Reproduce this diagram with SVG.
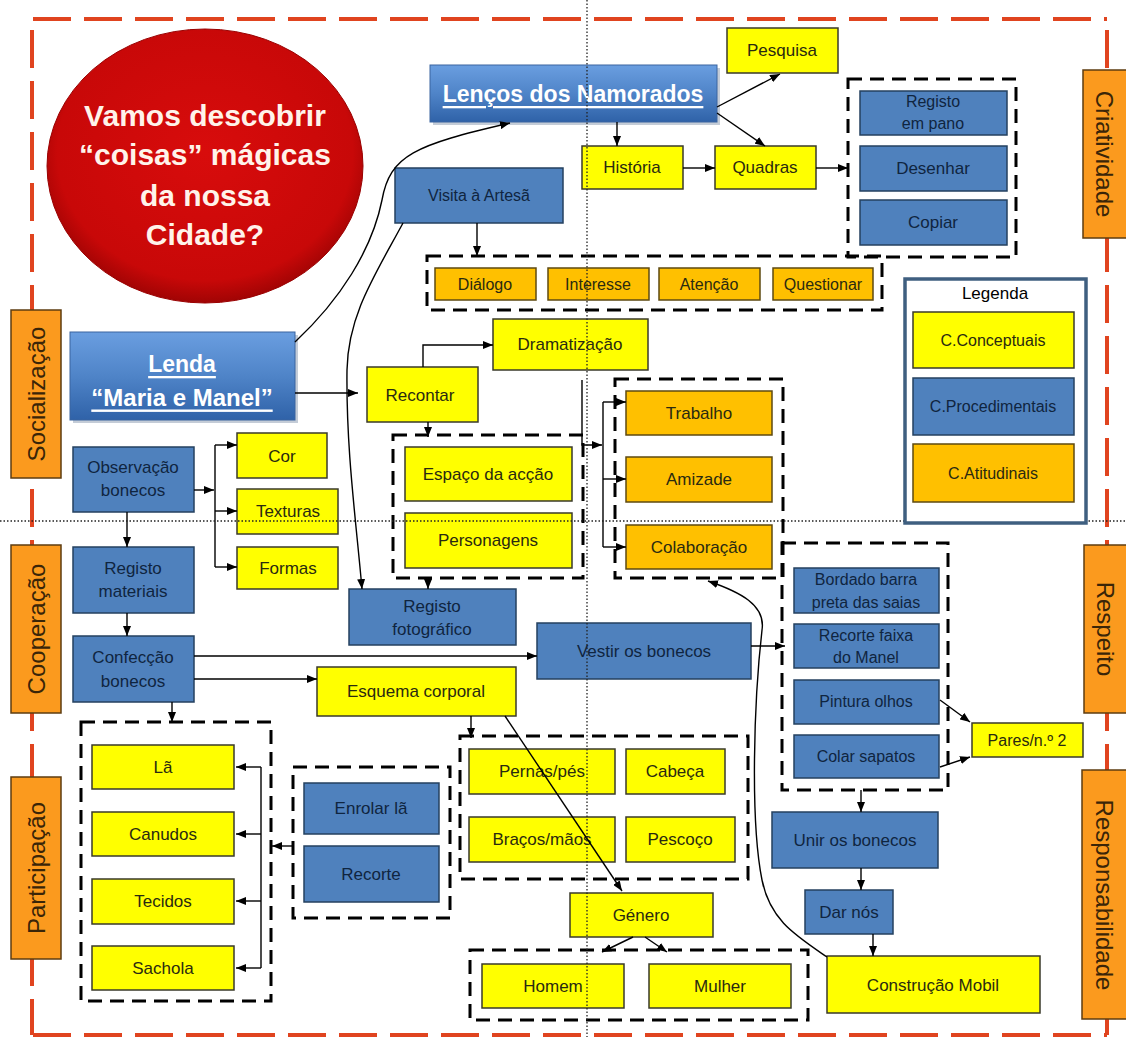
<svg xmlns="http://www.w3.org/2000/svg" width="1126" height="1037" viewBox="0 0 1126 1037">
<style>
.c rect{fill:#ffff00;stroke:#3a3a2a;stroke-width:1.5}
.p rect{fill:#4f81bd;stroke:#24405f;stroke-width:1.5}
.a rect{fill:#ffc000;stroke:#5e4a10;stroke-width:1.5}
.lab rect{fill:#fb9a1e;stroke:#5e3c10;stroke-width:1.5}
text{font-family:"Liberation Sans",Arial,sans-serif;font-size:17px;text-anchor:middle;dominant-baseline:central}
.c text,.a text{fill:#2a2a10}
.p text{fill:#0f2540}
.lab text{font-size:24px;fill:#3a2508}
.grp{fill:none;stroke:#000;stroke-width:3;stroke-dasharray:14 8}
.con path{fill:none;stroke:#000;stroke-width:1.4}
.hd text{font-weight:bold;fill:#fff;text-decoration:underline}
.red{stroke:#e0441f;stroke-width:4;stroke-dasharray:38 13;fill:none}
.dot{stroke:#222;stroke-width:1.3;stroke-dasharray:1.5 2;fill:none}
.ct{font-size:30px;font-weight:bold;fill:#fff3ea}
</style>
<defs>
<marker id="ah" viewBox="0 0 10 8" refX="10" refY="4" markerWidth="10" markerHeight="8" markerUnits="userSpaceOnUse" orient="auto"><path d="M0,0 L10,4 L0,8 z" fill="#000"/></marker>
<linearGradient id="bg" x1="0" y1="0" x2="0" y2="1"><stop offset="0" stop-color="#6a9ee0"/><stop offset="0.5" stop-color="#4f84c8"/><stop offset="1" stop-color="#2f62a8"/></linearGradient>
<radialGradient id="rg" cx="0.5" cy="0.45" r="0.55"><stop offset="0" stop-color="#d80c0c"/><stop offset="0.85" stop-color="#c80808"/><stop offset="1" stop-color="#a00404"/></radialGradient>
</defs>
<rect width="1126" height="1037" fill="#fff"/>

<g id="border">
<path class="red" d="M33,19 H1107"/>
<path class="red" d="M32,30 V1035"/>
<path class="red" d="M1107,30 V1035"/>
<path class="red" d="M33,1035 H1107"/>
</g>

<g id="title">
<ellipse cx="205" cy="166" rx="158" ry="137" fill="url(#rg)" stroke="#900" stroke-width="1"/>
<text class="ct" x="205" y="115">Vamos descobrir</text>
<text class="ct" x="205" y="154">“coisas” mágicas</text>
<text class="ct" x="205" y="195">da nossa</text>
<text class="ct" x="205" y="234">Cidade?</text>
</g>

<g id="groups">
<rect class="grp" x="848" y="79" width="168" height="178"/>
<rect class="grp" x="427" y="256" width="455" height="54"/>
<rect class="grp" x="393" y="435" width="190" height="143"/>
<rect class="grp" x="615" y="379" width="168" height="199"/>
<rect class="grp" x="81" y="722" width="190" height="279"/>
<rect class="grp" x="293" y="767" width="157" height="151"/>
<rect class="grp" x="460" y="736" width="288" height="143"/>
<rect class="grp" x="470" y="950" width="338" height="70"/>
<rect class="grp" x="782" y="543" width="166" height="247"/>
</g>

<g id="lencos" class="hd">
<rect x="433" y="68" width="287" height="57" fill="#8a9ab0" opacity="0.5"/>
<rect x="430" y="65" width="287" height="57" fill="url(#bg)" stroke="#3a64a0" stroke-width="1"/>
<text x="573" y="94" style="font-size:23px">Lenços dos Namorados</text>
</g>
<g id="lenda" class="hd">
<rect x="73" y="335" width="225" height="88" fill="#8a9ab0" opacity="0.5"/>
<rect x="70" y="332" width="225" height="88" fill="url(#bg)" stroke="#3a64a0" stroke-width="1"/>
<text x="182" y="364" style="font-size:23px">Lenda</text>
<text x="182" y="397" style="font-size:24px">“Maria e Manel”</text>
</g>

<g id="pesquisa" class="c"><rect x="727" y="28" width="111" height="45"/><text x="782" y="50">Pesquisa</text></g>
<g id="historia" class="c"><rect x="582" y="146" width="101" height="43"/><text x="632" y="167">História</text></g>
<g id="quadras" class="c"><rect x="715" y="146" width="101" height="43"/><text x="765" y="167">Quadras</text></g>
<g id="registo-pano" class="p"><rect x="860" y="91" width="147" height="44"/><text x="933" y="101" style="font-size:16px">Registo</text><text x="933" y="123" style="font-size:16px">em pano</text></g>
<g id="desenhar" class="p"><rect x="860" y="146" width="147" height="45"/><text x="933" y="168">Desenhar</text></g>
<g id="copiar" class="p"><rect x="860" y="200" width="147" height="45"/><text x="933" y="222">Copiar</text></g>
<g id="visita" class="p"><rect x="395" y="168" width="168" height="55"/><text x="479" y="195" style="font-size:16px">Visita à Artesã</text></g>
<g id="dialogo" class="a"><rect x="435" y="268" width="101" height="32"/><text x="485" y="284" style="font-size:16px">Diálogo</text></g>
<g id="interesse" class="a"><rect x="548" y="268" width="101" height="32"/><text x="598" y="284" style="font-size:16px">Interesse</text></g>
<g id="atencao" class="a"><rect x="659" y="268" width="101" height="32"/><text x="709" y="284" style="font-size:16px">Atenção</text></g>
<g id="questionar" class="a"><rect x="773" y="268" width="100" height="32"/><text x="823" y="284" style="font-size:16px">Questionar</text></g>

<g id="dramatizacao" class="c"><rect x="493" y="319" width="155" height="51"/><text x="570" y="344">Dramatização</text></g>
<g id="recontar" class="c"><rect x="367" y="367" width="111" height="55"/><text x="420" y="395">Recontar</text></g>
<g id="espaco" class="c"><rect x="405" y="447" width="167" height="54"/><text x="488" y="474">Espaço da acção</text></g>
<g id="personagens" class="c"><rect x="405" y="513" width="167" height="55"/><text x="488" y="540">Personagens</text></g>
<g id="trabalho" class="a"><rect x="626" y="391" width="146" height="44"/><text x="699" y="413">Trabalho</text></g>
<g id="amizade" class="a"><rect x="626" y="457" width="146" height="45"/><text x="699" y="479">Amizade</text></g>
<g id="colaboracao" class="a"><rect x="626" y="525" width="146" height="44"/><text x="699" y="547">Colaboração</text></g>

<g id="observacao" class="p"><rect x="73" y="447" width="121" height="65"/><text x="133" y="467">Observação</text><text x="133" y="490">bonecos</text></g>
<g id="cor" class="c"><rect x="237" y="433" width="90" height="45"/><text x="282" y="456">Cor</text></g>
<g id="texturas" class="c"><rect x="237" y="489" width="101" height="45"/><text x="288" y="511">Texturas</text></g>
<g id="formas" class="c"><rect x="237" y="547" width="101" height="42"/><text x="288" y="568">Formas</text></g>
<g id="registo-materiais" class="p"><rect x="73" y="547" width="121" height="66"/><text x="133" y="568">Registo</text><text x="133" y="591">materiais</text></g>
<g id="confeccao" class="p"><rect x="73" y="636" width="121" height="66"/><text x="133" y="657">Confecção</text><text x="133" y="681">bonecos</text></g>
<g id="registo-foto" class="p"><rect x="349" y="589" width="167" height="56"/><text x="432" y="606">Registo</text><text x="432" y="629">fotográfico</text></g>
<g id="vestir" class="p"><rect x="537" y="623" width="214" height="56"/><text x="644" y="651">Vestir os bonecos</text></g>
<g id="esquema" class="c"><rect x="317" y="667" width="199" height="49"/><text x="416" y="691">Esquema corporal</text></g>

<g id="la" class="c"><rect x="92" y="745" width="142" height="44"/><text x="163" y="767">Lã</text></g>
<g id="canudos" class="c"><rect x="92" y="812" width="142" height="44"/><text x="163" y="834">Canudos</text></g>
<g id="tecidos" class="c"><rect x="92" y="879" width="142" height="45"/><text x="163" y="901">Tecidos</text></g>
<g id="sachola" class="c"><rect x="92" y="946" width="142" height="44"/><text x="163" y="968">Sachola</text></g>
<g id="enrolar" class="p"><rect x="304" y="783" width="135" height="51"/><text x="371" y="808">Enrolar lã</text></g>
<g id="recorte" class="p"><rect x="304" y="846" width="135" height="56"/><text x="371" y="874">Recorte</text></g>

<g id="pernas" class="c"><rect x="469" y="749" width="146" height="45"/><text x="542" y="771">Pernas/pés</text></g>
<g id="cabeca" class="c"><rect x="626" y="749" width="99" height="45"/><text x="675" y="771">Cabeça</text></g>
<g id="bracos" class="c"><rect x="469" y="817" width="146" height="45"/><text x="542" y="839">Braços/mãos</text></g>
<g id="pescoco" class="c"><rect x="626" y="817" width="109" height="45"/><text x="680" y="839">Pescoço</text></g>
<g id="genero" class="c"><rect x="570" y="893" width="143" height="44"/><text x="641" y="915">Género</text></g>
<g id="homem" class="c"><rect x="482" y="964" width="142" height="44"/><text x="553" y="986">Homem</text></g>
<g id="mulher" class="c"><rect x="649" y="964" width="142" height="44"/><text x="720" y="986">Mulher</text></g>

<g id="bordado" class="p"><rect x="794" y="568" width="145" height="45"/><text x="866" y="579" style="font-size:16px">Bordado barra</text><text x="866" y="602" style="font-size:16px">preta das saias</text></g>
<g id="recorte-faixa" class="p"><rect x="794" y="624" width="145" height="44"/><text x="866" y="635" style="font-size:16px">Recorte faixa</text><text x="866" y="657" style="font-size:16px">do Manel</text></g>
<g id="pintura" class="p"><rect x="794" y="680" width="145" height="44"/><text x="866" y="701" style="font-size:16px">Pintura olhos</text></g>
<g id="colar" class="p"><rect x="794" y="735" width="145" height="43"/><text x="866" y="756" style="font-size:16px">Colar sapatos</text></g>
<g id="pares" class="c"><rect x="972" y="723" width="111" height="34"/><text x="1027" y="740" style="font-size:16px">Pares/n.º 2</text></g>
<g id="unir" class="p"><rect x="772" y="812" width="166" height="56"/><text x="855" y="840">Unir os bonecos</text></g>
<g id="darnos" class="p"><rect x="805" y="890" width="88" height="44"/><text x="849" y="912">Dar nós</text></g>
<g id="construcao" class="c"><rect x="827" y="956" width="213" height="57"/><text x="933" y="985">Construção Mobil</text></g>

<g id="connectors" class="con">
<path d="M617,122 V146" marker-end="url(#ah)"/>
<path d="M717,107 L780,74" marker-end="url(#ah)"/>
<path d="M717,113 L765,146" marker-end="url(#ah)"/>
<path d="M683,168 H715" marker-end="url(#ah)"/>
<path d="M816,168 H848" marker-end="url(#ah)"/>
<path d="M477,223 V256" marker-end="url(#ah)"/>
<path d="M295,342 C340,300 372,250 382,200 C390,155 415,145 510,123" marker-end="url(#ah)"/>
<path d="M403,223 C375,275 348,315 347,370 C346,450 356,520 362,589" marker-end="url(#ah)"/>
<path d="M295,393 H358" marker-end="url(#ah)"/>
<path d="M423,367 V345 H493" marker-end="url(#ah)"/>
<path d="M428,422 V437" marker-end="url(#ah)"/>
<path d="M428,578 V589" marker-end="url(#ah)"/>
<path d="M582,380 V445 H602" marker-end="url(#ah)"/>
<path d="M603,402 V547"/>
<path d="M603,402 H626" marker-end="url(#ah)"/>
<path d="M603,479 H626" marker-end="url(#ah)"/>
<path d="M603,547 H626" marker-end="url(#ah)"/>
<path d="M194,490 H214" marker-end="url(#ah)"/>
<path d="M215,445 V567"/>
<path d="M215,445 H237" marker-end="url(#ah)"/>
<path d="M215,511 H237" marker-end="url(#ah)"/>
<path d="M215,567 H237" marker-end="url(#ah)"/>
<path d="M127,512 V547" marker-end="url(#ah)"/>
<path d="M127,613 V636" marker-end="url(#ah)"/>
<path d="M194,656 H537" marker-end="url(#ah)"/>
<path d="M194,679 H317" marker-end="url(#ah)"/>
<path d="M172,702 V722" marker-end="url(#ah)"/>
<path d="M261,767 V968"/>
<path d="M261,767 H236" marker-end="url(#ah)"/>
<path d="M261,834 H236" marker-end="url(#ah)"/>
<path d="M261,901 H236" marker-end="url(#ah)"/>
<path d="M261,968 H236" marker-end="url(#ah)"/>
<path d="M293,846 H272" marker-end="url(#ah)"/>
<path d="M471,716 V738" marker-end="url(#ah)"/>
<path d="M505,716 L622,891" marker-end="url(#ah)"/>
<path d="M633,937 L602,952" marker-end="url(#ah)"/>
<path d="M645,937 L667,952" marker-end="url(#ah)"/>
<path d="M751,646 H785" marker-end="url(#ah)"/>
<path d="M940,700 L970,722" marker-end="url(#ah)"/>
<path d="M940,767 L970,757" marker-end="url(#ah)"/>
<path d="M861,790 V812" marker-end="url(#ah)"/>
<path d="M861,868 V890" marker-end="url(#ah)"/>
<path d="M873,934 V956" marker-end="url(#ah)"/>
<path d="M827,957 C795,935 770,920 762,880 C750,820 754,700 762,630 C766,605 740,592 708,581" marker-end="url(#ah)"/>
</g>

<g id="guides">
<path class="dot" d="M587,0 V1037"/>
<path class="dot" d="M0,521 H1126"/>
</g>

<g id="legenda">
<rect x="905" y="279" width="181" height="244" fill="#fff" stroke="#3f5f80" stroke-width="3.5"/>
<text x="995" y="293">Legenda</text>
<g class="c"><rect x="913" y="312" width="161" height="56"/><text x="993" y="340" style="font-size:16px">C.Conceptuais</text></g>
<g class="p"><rect x="913" y="378" width="161" height="57"/><text x="993" y="406" style="font-size:16px">C.Procedimentais</text></g>
<g class="a"><rect x="913" y="444" width="161" height="58"/><text x="993" y="473" style="font-size:16px">C.Atitudinais</text></g>
</g>

<g id="criatividade" class="lab"><rect x="1083" y="70" width="50" height="168"/><text transform="translate(1104,154) rotate(90)">Criatividade</text></g>
<g id="respeito" class="lab"><rect x="1084" y="545" width="50" height="168"/><text transform="translate(1105,629) rotate(90)">Respeito</text></g>
<g id="responsabilidade" class="lab"><rect x="1082" y="770" width="50" height="249"/><text transform="translate(1104,895) rotate(90)">Responsabilidade</text></g>
<g id="socializacao" class="lab"><rect x="11" y="310" width="50" height="168"/><text transform="translate(36,394) rotate(-90)">Socialização</text></g>
<g id="cooperacao" class="lab"><rect x="11" y="545" width="50" height="168"/><text transform="translate(36,629) rotate(-90)">Cooperação</text></g>
<g id="participacao" class="lab"><rect x="11" y="777" width="50" height="182"/><text transform="translate(36,868) rotate(-90)">Participação</text></g>
</svg>
